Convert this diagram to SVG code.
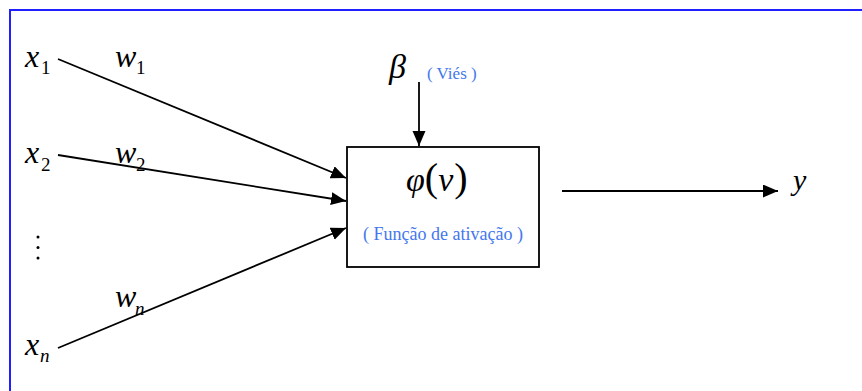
<svg xmlns="http://www.w3.org/2000/svg" width="862" height="391" viewBox="0 0 862 391">
<style>
.m{font-family:"Liberation Serif","Times New Roman",serif;fill:#000}
.i{font-style:italic}
.v{font-size:32px}
.s{font-size:19px}
.b{font-family:"Liberation Serif","Times New Roman",serif;fill:#4477ee}
.c{stroke:#000;stroke-width:1.8;fill:none}
</style>
<defs>
<marker id="ah" markerUnits="userSpaceOnUse" markerWidth="16" markerHeight="14" refX="15" refY="6.5" orient="auto">
<path d="M0,0 L15,6.5 L0,13 z" fill="#000"/>
</marker>
</defs>
<rect width="862" height="391" fill="#fff"/>
<path d="M10,400 V10 H870" fill="none" stroke="#1f1fff" stroke-width="2"/>
<g id="connectors">
<line class="c" x1="58" y1="59" x2="346" y2="178" marker-end="url(#ah)"/>
<line class="c" x1="58" y1="155" x2="346" y2="201" marker-end="url(#ah)"/>
<line class="c" x1="58" y1="348" x2="346" y2="228" marker-end="url(#ah)"/>
<line class="c" x1="419" y1="82" x2="419" y2="146" marker-end="url(#ah)"/>
<line class="c" x1="562" y1="191" x2="778" y2="191" marker-end="url(#ah)"/>
</g>
<g id="x1"><text class="m i v" x="25" y="67">x</text><text class="m s" x="41" y="74">1</text></g>
<g id="x2"><text class="m i v" x="25" y="163">x</text><text class="m s" x="41" y="171">2</text></g>
<g id="dots"><circle cx="38" cy="237" r="1.5"/><circle cx="38" cy="247.5" r="1.5"/><circle cx="38" cy="258" r="1.5"/></g>
<g id="xn"><text class="m i v" x="25" y="355">x</text><text class="m i s" x="40" y="362">n</text></g>
<g id="w1"><text class="m i v" x="115" y="67">w</text><text class="m s" x="136" y="74">1</text></g>
<g id="w2"><text class="m i v" x="115" y="163">w</text><text class="m s" x="136" y="171">2</text></g>
<g id="wn"><text class="m i v" x="115" y="307">w</text><text class="m i s" x="135" y="315">n</text></g>
<g id="bias"><text class="m i" x="389" y="78" font-size="34">β</text><text class="b" x="427" y="79" font-size="17">( Viés )</text></g>
<g id="neuron">
<rect x="347" y="147" width="192" height="120" fill="#fff" stroke="#000" stroke-width="1.8"/>
<text class="m" x="406" y="191"><tspan class="i" font-size="34">φ</tspan><tspan font-size="40">(</tspan><tspan class="i" font-size="34">ν</tspan><tspan font-size="40" dx="1">)</tspan></text>
<text class="b" x="363" y="240" font-size="18">( Função de ativação )</text>
</g>
<g id="y"><text class="m i" x="793" y="190" font-size="30">y</text></g>
</svg>
